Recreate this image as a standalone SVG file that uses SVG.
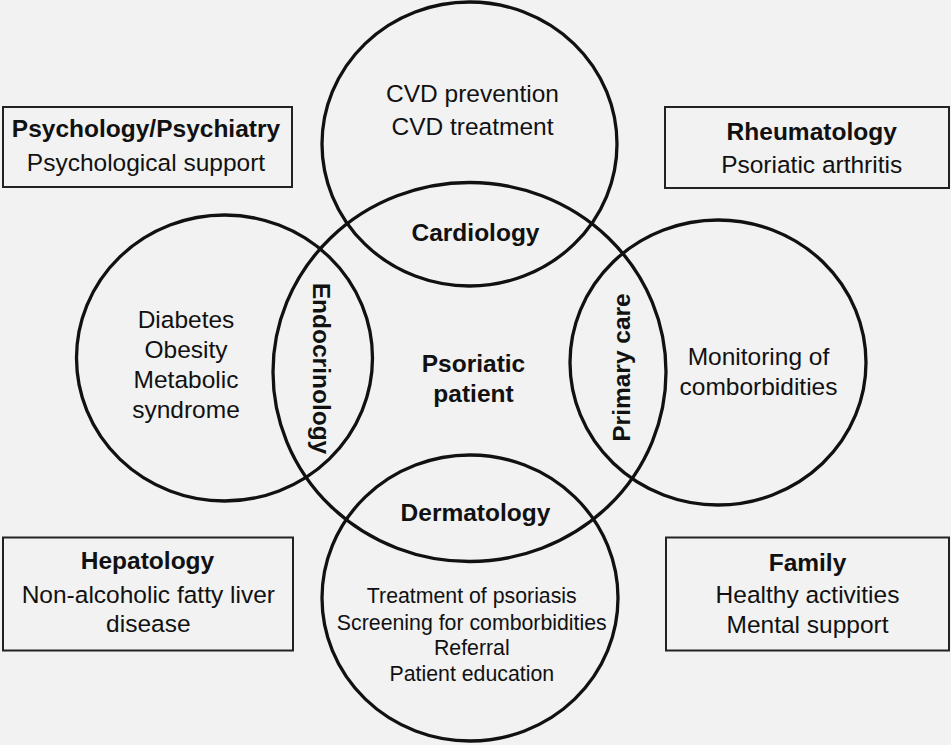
<svg xmlns="http://www.w3.org/2000/svg" width="951" height="745" viewBox="0 0 951 745">
<style>
.c{fill:none;stroke:#111;stroke-width:3.3}
.b{fill:none;stroke:#222;stroke-width:2}
text{font-family:"Liberation Sans",Arial,sans-serif;fill:#111;text-anchor:middle}
.n{font-size:24.5px}
.h{font-size:24.5px;font-weight:bold}
.s{font-size:21.3px}
</style>
<rect x="0" y="0" width="951" height="745" fill="#f2f2f2"/>
<g id="circles">
<ellipse id="c-top" class="c" cx="469.5" cy="144" rx="147.5" ry="142"/>
<ellipse id="c-left" class="c" cx="224.5" cy="358" rx="148" ry="143"/>
<ellipse id="c-right" class="c" cx="718" cy="362.5" rx="148" ry="142.5"/>
<ellipse id="c-bottom" class="c" cx="470" cy="598" rx="148" ry="143"/>
<ellipse id="c-center" class="c" cx="469.5" cy="372" rx="196.5" ry="189.5"/>
</g>
<g id="connectors"/>
<g id="node-cardio">
<text class="n" x="472.5" y="102">CVD prevention</text>
<text class="n" x="472.5" y="134.5">CVD treatment</text>
<text class="h" x="475.5" y="241">Cardiology</text>
</g>
<g id="node-endo">
<text class="n" x="186" y="328">Diabetes</text>
<text class="n" x="186" y="357.5">Obesity</text>
<text class="n" x="186" y="388">Metabolic</text>
<text class="n" x="186" y="417.5">syndrome</text>
<text class="h" transform="translate(312.5 368.5) rotate(90)" x="0" y="0">Endocrinology</text>
</g>
<g id="node-primary">
<text class="n" x="758.5" y="365">Monitoring of</text>
<text class="n" x="758.5" y="394.5">comborbidities</text>
<text class="h" transform="translate(630 367.5) rotate(-90)" x="0" y="0">Primary care</text>
</g>
<g id="node-derm">
<text class="h" x="475.5" y="521">Dermatology</text>
<text class="s" x="471.8" y="603">Treatment of psoriasis</text>
<text class="s" x="471.8" y="629.5">Screening for comborbidities</text>
<text class="s" x="471.8" y="655">Referral</text>
<text class="s" x="471.8" y="681">Patient education</text>
</g>
<g id="node-patient">
<text class="h" x="473.5" y="372">Psoriatic</text>
<text class="h" x="473.5" y="402">patient</text>
</g>
<g id="node-psych">
<rect class="b" x="3" y="107" width="289" height="80"/>
<text class="h" x="146" y="137">Psychology/Psychiatry</text>
<text class="n" x="146" y="171">Psychological support</text>
</g>
<g id="node-rheum">
<rect class="b" x="665" y="107" width="284" height="81"/>
<text class="h" x="811.7" y="139.5">Rheumatology</text>
<text class="n" x="811.7" y="173">Psoriatic arthritis</text>
</g>
<g id="node-hep">
<rect class="b" x="3" y="537.5" width="290" height="113"/>
<text class="h" x="147.5" y="568.5">Hepatology</text>
<text class="n" x="148.3" y="603">Non-alcoholic fatty liver</text>
<text class="n" x="148.3" y="632">disease</text>
</g>
<g id="node-family">
<rect class="b" x="666" y="537.5" width="283" height="113"/>
<text class="h" x="807.5" y="571">Family</text>
<text class="n" x="807.5" y="603">Healthy activities</text>
<text class="n" x="807.5" y="633">Mental support</text>
</g>
</svg>
